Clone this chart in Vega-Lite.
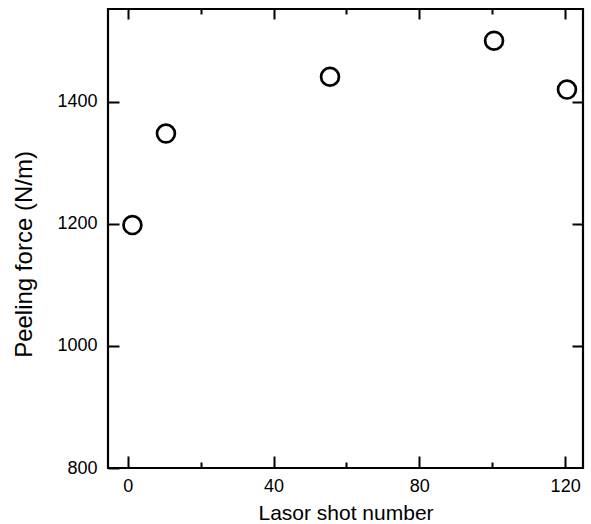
{
  "$schema": "https://vega.github.io/schema/vega-lite/v6.json",
  "width": 475,
  "height": 459,
  "autosize": "none",
  "padding": {"left": 108, "top": 9, "right": 8, "bottom": 56},
  "background": "white",
  "config": {
    "view": {"stroke": "black", "strokeWidth": 2.2},
    "font": "Liberation Sans",
    "axis": {
      "domain": false,
      "grid": false,
      "tickColor": "black",
      "tickWidth": 2,
      "labelColor": "black",
      "titleColor": "black",
      "labelFont": "Liberation Sans",
      "labelFontSize": 18,
      "titleFont": "Liberation Sans",
      "titleFontWeight": "normal",
      "format": "d"
    }
  },
  "data": {
    "values": [
      {"shots": 1.3, "force": 1198},
      {"shots": 10.5, "force": 1348},
      {"shots": 55.5, "force": 1441},
      {"shots": 100.5, "force": 1500},
      {"shots": 120.5, "force": 1420}
    ]
  },
  "layer": [
    {
      "mark": {"type": "point", "shape": "circle", "filled": false, "color": "black", "size": 320, "strokeWidth": 2.7, "opacity": 1},
      "encoding": {
        "x": {
          "field": "shots", "type": "quantitative",
          "scale": {"domain": [-5.4, 124.9], "nice": false, "zero": false},
          "axis": {
            "orient": "bottom",
            "values": [0, 20, 40, 60, 80, 100, 120],
            "labelExpr": "datum.value % 40 === 0 ? datum.label : ''",
            "tickSize": {"condition": {"test": "datum.value % 40 === 0", "value": -12}, "value": -6},
            "labelPadding": 21,
            "labelBaseline": "top",
            "labelFlush": false,
            "title": "Lasor shot number",
            "titleFontSize": 21,
            "titleBaseline": "alphabetic",
            "titleY": 51
          }
        },
        "y": {
          "field": "force", "type": "quantitative",
          "scale": {"domain": [800, 1552], "nice": false, "zero": false},
          "axis": {
            "orient": "left",
            "values": [800, 1000, 1200, 1400],
            "tickSize": -11,
            "labelPadding": 22,
            "labelFlush": false,
            "title": "Peeling force (N/m)",
            "titleFontSize": 24,
            "titleBaseline": "alphabetic",
            "titleX": -77,
            "titleY": 245
          }
        }
      }
    },
    {
      "mark": {"type": "point", "opacity": 0},
      "encoding": {
        "x": {
          "field": "shots", "type": "quantitative",
          "axis": {
            "orient": "top",
            "values": [0, 20, 40, 60, 80, 100, 120],
            "labels": false,
            "tickSize": {"condition": {"test": "datum.value % 40 === 0", "value": -10}, "value": -5},
            "title": null
          }
        },
        "y": {
          "field": "force", "type": "quantitative",
          "axis": {
            "orient": "right",
            "values": [1000, 1200, 1400],
            "labels": false,
            "tickSize": -11,
            "title": null
          }
        }
      }
    }
  ],
  "resolve": {"axis": {"x": "independent", "y": "independent"}}
}
